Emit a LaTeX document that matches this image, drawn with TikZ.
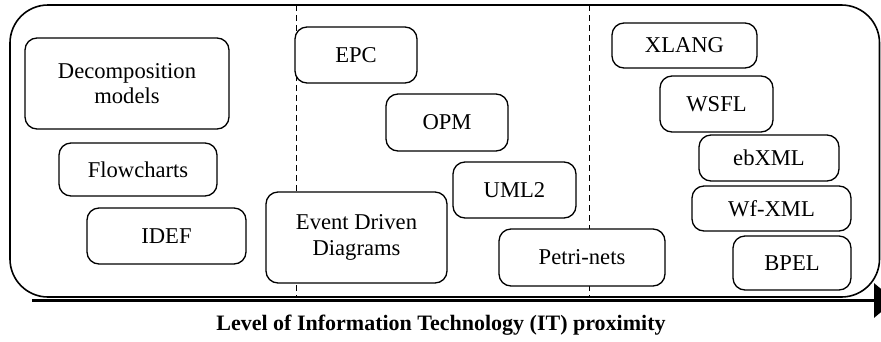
\documentclass[tikz,border=0pt]{standalone}
\usepackage{fontspec}
\setmainfont{Liberation Serif}
\usetikzlibrary{arrows.meta}
\begin{document}
\begin{tikzpicture}[x=1pt,y=-1pt,
  mbox/.style={draw=black, line width=1.3pt, fill=white, rounded corners=12pt,
    inner sep=0pt, align=center, font=\fontsize{22.6}{25.5}\selectfont},
  sep/.style={draw=black, line width=1pt, dash pattern=on 6pt off 4pt},
  axis/.style={draw=black, line width=3.5pt, -{Triangle[length=21pt,width=34pt]}}]
\useasboundingbox (0,0) rectangle (881,341);
\clip (0,0) rectangle (881,341);
% outer frame
\draw[line width=1.6pt, rounded corners=38pt] (10,5) rectangle (879.5,297);
% separators
\coordinate (s1t) at (296,5);
\coordinate (s1b) at (296,297);
\coordinate (s2t) at (589,5);
\coordinate (s2b) at (589,297);
\draw[sep] (s1t) -- (s1b);
\draw[sep] (s2t) -- (s2b);
% axis
\coordinate (ax0) at (32,300.5);
\coordinate (ax1) at (895,300.5);
\draw[axis] (ax0) -- (ax1);
% boxes
\node[mbox, minimum width=204pt, minimum height=91pt] (decomp) at (127,83.5) {Decomposition\\models};
\node[mbox, minimum width=158pt, minimum height=53pt] (flow) at (138,169.5) {Flowcharts};
\node[mbox, minimum width=159pt, minimum height=56pt] (idef) at (166.5,236) {IDEF};
\node[mbox, minimum width=181pt, minimum height=91pt] (edd) at (356.5,237.5) {Event Driven\\Diagrams};
\node[mbox, minimum width=122pt, minimum height=56pt] (epc) at (356,55) {EPC};
\node[mbox, minimum width=122pt, minimum height=57pt] (opm) at (447,122.5) {OPM};
\node[mbox, minimum width=123pt, minimum height=56pt] (uml) at (514.5,190) {UML2};
\node[mbox, minimum width=166pt, minimum height=57pt] (petri) at (582,257.5) {Petri-nets};
\node[mbox, minimum width=145pt, minimum height=45pt] (xlang) at (684.5,45.5) {XLANG};
\node[mbox, minimum width=113pt, minimum height=56pt] (wsfl) at (716.5,104) {WSFL};
\node[mbox, minimum width=140pt, minimum height=46pt] (ebxml) at (769,158) {ebXML};
\node[mbox, minimum width=159pt, minimum height=45pt] (wfxml) at (771.5,208.5) {Wf-XML};
\node[mbox, minimum width=118pt, minimum height=54pt] (bpel) at (792,263) {BPEL};
% axis label
\node[font=\fontsize{22}{25}\selectfont\bfseries, inner sep=0pt] (lbl) at (441,325) {Level of Information Technology (IT) proximity};
\end{tikzpicture}
\end{document}
